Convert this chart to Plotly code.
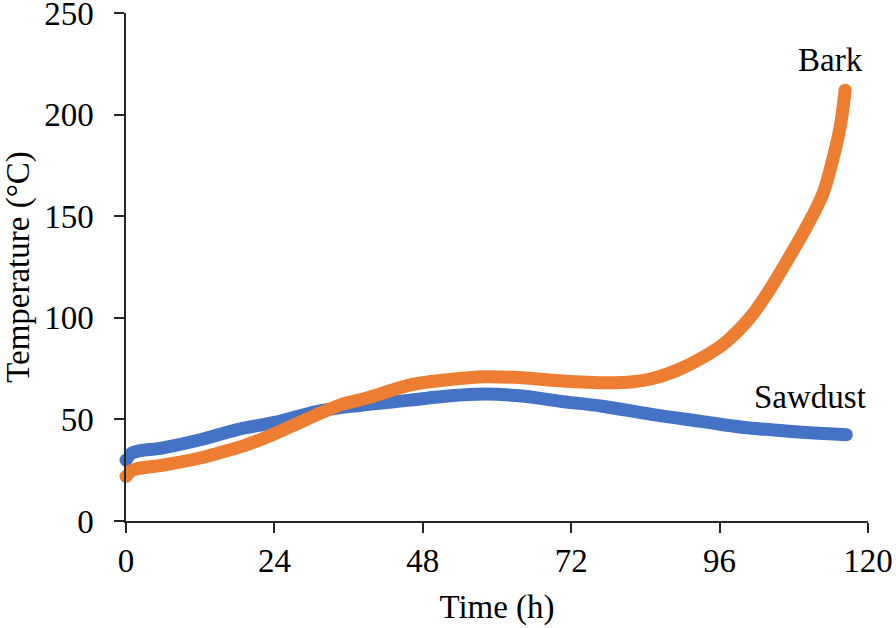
import plotly.graph_objects as go

# Sawdust series (time in h, temperature in °C)
sawdust_time = [0, 1, 6, 12, 18, 24, 31, 38, 46, 52, 58, 64, 70, 77, 85, 93, 100, 104, 110, 116.5]
sawdust_temp = [30, 33.5, 36, 40, 45, 48.5, 54, 57, 59.5, 61.5, 62.5, 61.5, 59, 56.5, 52.5, 49, 46, 45, 43.5, 42.5]

# Bark series
bark_time = [0, 1, 6, 12, 15, 19, 23.3, 27, 31.4, 35, 39, 46, 52, 58, 64, 70, 78, 82, 85, 89, 93,
             97, 100.9, 103.7, 106.9, 110.1, 112.7, 114.3, 115.5, 116.3]
bark_temp = [22, 25, 27.5, 31, 33.5, 37, 42, 47, 53, 57.5, 60.5, 67, 69.5, 71, 70.5, 69, 68, 68.5, 70, 74, 80,
             88, 100, 112, 128, 145, 161, 178, 194, 212]

x_ticks = [0, 24, 48, 72, 96, 120]
y_ticks = [0, 50, 100, 150, 200, 250]

FONT = "Liberation Serif, Times New Roman, serif"
BLUE = "#4472C4"
ORANGE = "#ED7D31"
LW = 13


def end_sizes(n):
    return [LW] + [0] * (n - 2) + [LW]


fig = go.Figure()
fig.add_trace(go.Scatter(
    x=sawdust_time, y=sawdust_temp, mode="lines+markers", name="Sawdust",
    line=dict(color=BLUE, width=LW, shape="spline", smoothing=1.0),
    marker=dict(color=BLUE, size=end_sizes(len(sawdust_time)), opacity=1, line=dict(width=0)),
    cliponaxis=False, showlegend=False,
))
fig.add_trace(go.Scatter(
    x=bark_time, y=bark_temp, mode="lines+markers", name="Bark",
    line=dict(color=ORANGE, width=LW, shape="spline", smoothing=1.0),
    marker=dict(color=ORANGE, size=end_sizes(len(bark_time)), opacity=1, line=dict(width=0)),
    cliponaxis=False, showlegend=False,
))

fig.add_annotation(x=113.9, y=227, text="Bark", showarrow=False,
                   font=dict(family=FONT, size=33, color="black"))
fig.add_annotation(x=110.6, y=61, text="Sawdust", showarrow=False,
                   font=dict(family=FONT, size=33, color="black"))

axis_common = dict(
    showgrid=False, zeroline=False, showline=True, linecolor="#262626", linewidth=1.5,
    ticks="outside", ticklen=10, tickwidth=1.5, tickcolor="#262626",
    tickfont=dict(family=FONT, size=33, color="black"),
    automargin=False, ticklabeloverflow="allow",
)

fig.update_layout(
    width=896, height=628,
    margin=dict(l=126, r=28, t=13, b=107),
    paper_bgcolor="white", plot_bgcolor="white",
    xaxis=dict(range=[0, 120], tickvals=x_ticks, ticklabelstandoff=0,
               title=dict(text="Time (h)", font=dict(family=FONT, size=33, color="black"), standoff=17),
               **axis_common),
    yaxis=dict(range=[0, 250], tickvals=y_ticks, ticklabelstandoff=14,
               title=dict(text="Temperature (°C)", font=dict(family=FONT, size=33, color="black"), standoff=12),
               **axis_common),
)

fig.write_html("out.html", config={"displayModeBar": False},
               post_script="document.body.style.margin='0';")
